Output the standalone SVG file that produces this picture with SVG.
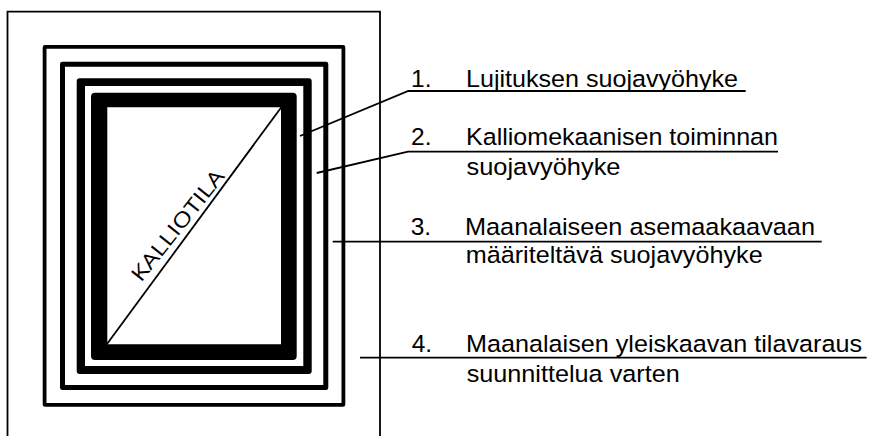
<svg xmlns="http://www.w3.org/2000/svg" width="869" height="436" viewBox="0 0 869 436">
<style>
.ln{fill:none;stroke:#000;stroke-width:1.8}
.ring{fill:#000;fill-rule:evenodd}
.t{font-family:"Liberation Sans",Arial,sans-serif;font-size:24.5px;fill:#000}
.k{font-family:"Open Sans","DejaVu Sans",sans-serif;font-size:20.5px;font-weight:400;fill:#000}
</style>
<rect width="869" height="436" fill="#fff"/>
<g id="frame">
<path class="ln" d="M7.5,436 V11.7 H380 V436" stroke-width="1.6"/>
</g>
<g id="zones">
<path id="ring1" class="ring" d="M45,45 H343 Q345.3,45 345.3,47.3 V404.4 Q345.3,406.7 343,406.7 H45 Q42.7,406.7 42.7,404.4 V47.3 Q42.7,45 45,45 Z M46.5,48.8 V402.9 H341.5 V48.8 Z"/>
<path id="ring2" class="ring" d="M62.5,61.7 H326 Q328.3,61.7 328.3,64 V387.7 Q328.3,390 326,390 H62.5 Q60,390 60,387.7 V64 Q60,61.7 62.5,61.7 Z M65,66.7 V385 H323.3 V66.7 Z"/>
<path id="ring3" class="ring" d="M79.7,78.3 H308.7 Q311.7,78.3 311.7,81.3 V371 Q311.7,374 308.7,374 H79.7 Q76.7,374 76.7,371 V81.3 Q76.7,78.3 79.7,78.3 Z M85,86 V366 H303.3 V86 Z"/>
<path id="ring4" class="ring" d="M95,92.7 H292.7 Q296.7,92.7 296.7,96.7 V356 Q296.7,360 292.7,360 H95 Q91,360 91,356 V96.7 Q91,92.7 95,92.7 Z M107.3,107.3 V344.3 H281 V107.3 Z"/>
</g>
<g id="kalliotila">
<line class="ln" x1="107" y1="344" x2="281.5" y2="107" stroke-width="1.5"/>
<text class="k" transform="translate(141,283) rotate(-51.5)" textLength="136" lengthAdjust="spacingAndGlyphs">KALLIOTILA</text>
</g>
<g id="connectors">
<path class="ln" d="M300,136 L408.3,91 H745.7"/>
<path class="ln" d="M316.7,173 L408,151.7 H778"/>
<path class="ln" d="M332.7,241.7 H821.7"/>
<path class="ln" d="M360,357.7 H866.7"/>
</g>
<g id="label1">
<text class="t" x="411" y="86.7">1.</text>
<text class="t" x="466" y="86.7" textLength="272" lengthAdjust="spacingAndGlyphs">Lujituksen suojavyöhyke</text>
</g>
<g id="label2">
<text class="t" x="411" y="145">2.</text>
<text class="t" x="466" y="145" textLength="312" lengthAdjust="spacingAndGlyphs">Kalliomekaanisen toiminnan</text>
<text class="t" x="466.5" y="175" textLength="154" lengthAdjust="spacingAndGlyphs">suojavyöhyke</text>
</g>
<g id="label3">
<text class="t" x="410.7" y="235">3.</text>
<text class="t" x="465" y="235" textLength="350" lengthAdjust="spacingAndGlyphs">Maanalaiseen asemaakaavaan</text>
<text class="t" x="465.7" y="262.7" textLength="297" lengthAdjust="spacingAndGlyphs">määriteltävä suojavyöhyke</text>
</g>
<g id="label4">
<text class="t" x="411.7" y="352.3">4.</text>
<text class="t" x="466" y="352.3" textLength="396" lengthAdjust="spacingAndGlyphs">Maanalaisen yleiskaavan tilavaraus</text>
<text class="t" x="466.7" y="381.7" textLength="213" lengthAdjust="spacingAndGlyphs">suunnittelua varten</text>
</g>
</svg>
